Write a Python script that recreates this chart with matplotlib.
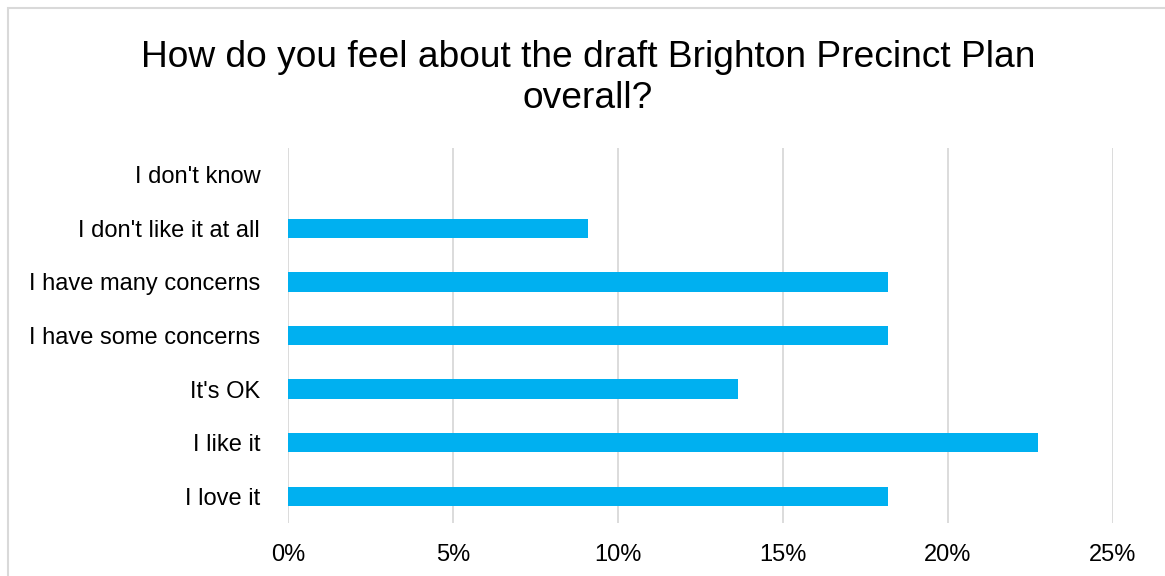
import matplotlib.pyplot as plt
from matplotlib.patches import Rectangle
from matplotlib.ticker import PercentFormatter

plt.rcParams['font.family'] = ['Liberation Sans', 'DejaVu Sans']

categories = ["I love it", "I like it", "It's OK", "I have some concerns",
              "I have many concerns", "I don't like it at all", "I don't know"]
shares = [4/22, 5/22, 3/22, 4/22, 4/22, 2/22, 0.0]
xticks = [0, 0.05, 0.10, 0.15, 0.20, 0.25]

fig = plt.figure(figsize=(11.65, 5.76), dpi=100)
ax = fig.add_axes([288/1165, 53/576, 825/1165, 375/576])

ax.barh(range(len(categories)), shares, height=0.36, color='#00b0f0', zorder=3)
ax.set_yticks(range(len(categories)))
ax.set_yticklabels(categories, fontsize=17)
ax.set_ylim(-0.5, len(categories) - 0.5)

ax.set_xlim(0, 0.25)
ax.set_xticks(xticks)
ax.xaxis.set_major_formatter(PercentFormatter(1.0, decimals=0))
ax.tick_params(axis='x', labelsize=17, length=0, pad=15)
ax.tick_params(axis='y', length=0, pad=20)
ax.grid(axis='x', color='#d9d9d9', linewidth=1.3, zorder=0)
for s in ax.spines.values():
    s.set_visible(False)

fig.text(588/1165, 1 - 78/576,
         "How do you feel about the draft Brighton Precinct Plan\noverall?",
         ha='center', va='center', fontsize=26.7, linespacing=1.22)

# chart area frame
fig.patches.append(Rectangle((8/1165, -0.05), 1.2, (576 - 8)/576 + 0.05,
                             transform=fig.transFigure, fill=False,
                             edgecolor='#d9d9d9', linewidth=1.5))

fig.savefig('out.png', dpi=100)
